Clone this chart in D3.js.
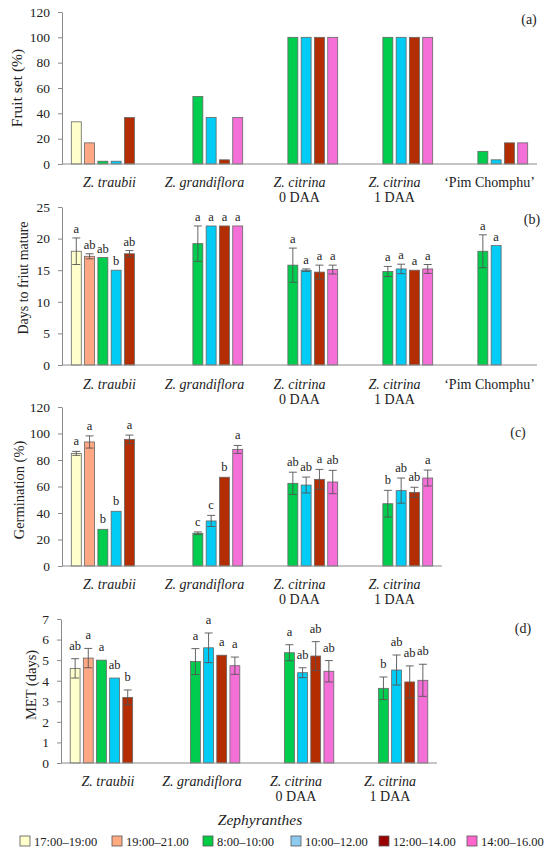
<!DOCTYPE html>
<html>
<head>
<meta charset="utf-8">
<script src="https://cdn.jsdelivr.net/npm/d3@7"></script>
<style>
  html, body { margin: 0; padding: 0; background: #fff; }
  svg { display: block; }
  svg text { font-family: "Liberation Serif", serif; font-weight: 400; fill: #222; }
  .axis path, .axis line { stroke: #8a8a8a; }
  .axis text { font-size: 13.5px; }
</style>
</head>
<body>
<svg id="chart" width="550" height="853"></svg>
<script>
// series = pollination times, categories = Zephyranthes groups
const series = ['17:00–19:00', '19:00–21.00', '8:00–10:00', '10:00–12.00', '12:00–14.00', '14:00–16.00'];
const categories = ['traubii', 'grandiflora', 'citrina0', 'citrina1', 'pim'];
const catLine1 = ['Z. traubii', 'Z. grandiflora', 'Z. citrina', 'Z. citrina', '‘Pim Chomphu’'];
const catLine2 = ['', '', '0 DAA', '1 DAA', ''];
const catItalic = [true, true, true, true, false];

// (a) fruit set %, rows = categories, cols = series
const fruitSet = [
  [33.3, 16.7, 2.2, 2.2, 36.7, null],
  [null, null, 53.3, 36.7, 3.3, 36.7],
  [null, null, 100, 100, 100, 100],
  [null, null, 100, 100, 100, 100],
  [null, null, 10.0, 3.3, 16.7, 16.7]
];

// (b) days to fruit mature
const daysMature = [
  [18.0, 17.2, 17.0, 15.0, 17.6, null],
  [null, null, 19.2, 22.0, 22.0, 22.0],
  [null, null, 15.8, 15.0, 14.7, 15.1],
  [null, null, 14.8, 15.2, 15.0, 15.2],
  [null, null, 18.0, 18.9, null, null]
];
const daysMatureErr = [
  [2.1, 0.4, 0, 0, 0.5, null],
  [null, null, 2.8, 0, 0, 0],
  [null, null, 2.7, 0.2, 1.1, 0.7],
  [null, null, 0.8, 0.75, 0, 0.7],
  [null, null, 2.6, 0, null, null]
];
const daysMatureLetters = [
  ['a', 'ab', 'ab', 'b', 'ab', null],
  [null, null, 'a', 'a', 'a', 'a'],
  [null, null, 'a', 'a', 'a', 'a'],
  [null, null, 'a', 'a', 'a', 'a'],
  [null, null, 'a', 'a', null, null]
];

// (c) germination %
const germination = [
  [85.0, 93.6, 27.7, 41.3, 95.6, null],
  [null, null, 24.7, 34.0, 67.0, 88.0],
  [null, null, 62.4, 61.1, 65.4, 63.4],
  [null, null, 47.0, 56.9, 55.6, 66.4]
];
const germinationErr = [
  [1.5, 4.6, 0, 0, 3.2, null],
  [null, null, 1.0, 4.2, 0, 3.0],
  [null, null, 8.4, 6.0, 7.5, 8.8],
  [null, null, 10.1, 9.5, 3.8, 6.0]
];
const germinationLetters = [
  ['a', 'a', 'b', 'b', 'a', null],
  [null, null, 'c', 'c', 'b', 'a'],
  [null, null, 'ab', 'ab', 'a', 'ab'],
  [null, null, 'b', 'ab', 'ab', 'a']
];

// (d) mean emergence time (days)
const met = [
  [4.60, 5.10, 5.00, 4.13, 3.19, null],
  [null, null, 4.93, 5.60, 5.24, 4.73],
  [null, null, 5.36, 4.39, 5.20, 4.46],
  [null, null, 3.63, 4.52, 3.94, 4.02]
];
const metErr = [
  [0.47, 0.47, 0, 0, 0.36, null],
  [null, null, 0.63, 0.72, 0, 0.42],
  [null, null, 0.39, 0.24, 0.70, 0.52],
  [null, null, 0.55, 0.73, 0.78, 0.78]
];
const metLetters = [
  ['ab', 'a', 'a', 'ab', 'b', null],
  [null, null, 'a', 'a', 'a', 'a'],
  [null, null, 'a', 'ab', 'ab', 'ab'],
  [null, null, 'b', 'ab', 'ab', 'ab']
];

const barColors = ['#ffffcc', '#ffa883', '#00cc4e', '#00ccf5', '#b32d00', '#f46fd8'];
const legendColors = ['#ffffcc', '#ffaa80', '#00cc44', '#8ecaf0', '#990000', '#ff66cc'];

const panels = [
  { tag: '(a)', values: fruitSet, err: null, letters: null, domain: [0, 120], step: 20,
    top: 12, bottom: 164, xr: [62, 537], title: 'Fruit set (%)', titleX: 16, titleY: 88, titleSize: 15.5,
    catY: 187, tagX: 529, tagY: 24, gap: 8 },
  { tag: '(b)', values: daysMature, err: daysMatureErr, letters: daysMatureLetters, domain: [0, 25], step: 5,
    top: 207, bottom: 365, xr: [62, 537], title: 'Days to friut mature', titleX: 23, titleY: 278, titleSize: 14,
    catY: 389, tagX: 532, tagY: 224, gap: 5 },
  { tag: '(c)', values: germination, err: germinationErr, letters: germinationLetters, domain: [0, 120], step: 20,
    top: 407, bottom: 566, xr: [62, 442], title: 'Germination (%)', titleX: 19, titleY: 490, titleSize: 14.5,
    catY: 589, tagX: 518, tagY: 437, gap: 6 },
  { tag: '(d)', values: met, err: metErr, letters: metLetters, domain: [0, 7], step: 1,
    top: 619, bottom: 763, xr: [61, 437], title: 'MET (days)', titleX: 31, titleY: 685, titleSize: 14.5,
    catY: 786, tagX: 523, tagY: 633, gap: 9 }
];

const svg = d3.select('#chart');

panels.forEach(p => {
  const cats = categories.slice(0, p.values.length);
  const g = svg.append('g');

  const x0 = d3.scaleBand().domain(cats).range(p.xr);
  const x1 = d3.scaleBand().domain(d3.range(series.length))
    .range([0, x0.bandwidth()]).paddingInner(0.25).paddingOuter(0.7);
  const y = d3.scaleLinear().domain(p.domain).range([p.bottom, p.top]);

  // y axis
  g.append('g')
    .attr('class', 'axis')
    .attr('transform', `translate(${p.xr[0]},0)`)
    .call(d3.axisLeft(y)
      .tickValues(d3.range(p.domain[0], p.domain[1] + p.step / 2, p.step))
      .tickFormat(d3.format('d'))
      .tickSize(4).tickSizeOuter(0).tickPadding(8));

  // flatten to cells, skipping missing series
  const cells = [];
  p.values.forEach((row, i) => row.forEach((v, j) => {
    if (v == null) return;
    cells.push({ cat: cats[i], i, j, v,
      e: p.err ? (p.err[i][j] || 0) : 0,
      l: p.letters ? p.letters[i][j] : null });
  }));

  g.selectAll('rect.bar').data(cells).join('rect')
    .attr('class', 'bar')
    .attr('x', d => x0(d.cat) + x1(d.j))
    .attr('y', d => y(d.v))
    .attr('width', x1.bandwidth())
    .attr('height', d => y(0) - y(d.v))
    .attr('fill', d => barColors[d.j])
    .attr('stroke', '#666')
    .attr('stroke-width', 0.8);

  // x axis line
  g.append('line')
    .attr('x1', p.xr[0]).attr('x2', p.xr[1])
    .attr('y1', y(0)).attr('y2', y(0))
    .attr('stroke', '#8a8a8a').attr('stroke-width', 1);

  // error bars
  const errs = cells.filter(d => d.e > 0);
  const cx = d => x0(d.cat) + x1(d.j) + x1.bandwidth() / 2;
  const eg = g.selectAll('g.err').data(errs).join('g').attr('class', 'err')
    .attr('stroke', '#555').attr('stroke-width', 0.9);
  eg.append('line')
    .attr('x1', cx).attr('x2', cx)
    .attr('y1', d => y(d.v + d.e)).attr('y2', d => y(d.v - d.e));
  [1, -1].forEach(s => {
    eg.append('line')
      .attr('x1', d => cx(d) - 4).attr('x2', d => cx(d) + 4)
      .attr('y1', d => y(d.v + s * d.e)).attr('y2', d => y(d.v + s * d.e));
  });

  // significance letters
  g.selectAll('text.letter').data(cells.filter(d => d.l)).join('text')
    .attr('class', 'letter')
    .attr('x', cx)
    .attr('y', d => y(d.v + d.e) - p.gap)
    .attr('text-anchor', 'middle')
    .style('font-size', '12.5px')
    .text(d => d.l);

  // category labels, two separate lines
  const mid = d => x0(d) + x0.bandwidth() / 2;
  g.selectAll('text.cat1').data(cats).join('text')
    .attr('class', 'cat1')
    .attr('x', mid).attr('y', p.catY)
    .attr('text-anchor', 'middle')
    .style('font-size', '14px')
    .style('font-style', d => catItalic[categories.indexOf(d)] ? 'italic' : 'normal')
    .text(d => catLine1[categories.indexOf(d)]);
  g.selectAll('text.cat2').data(cats.filter(d => catLine2[categories.indexOf(d)])).join('text')
    .attr('class', 'cat2')
    .attr('x', mid).attr('y', p.catY + 15)
    .attr('text-anchor', 'middle')
    .style('font-size', '14px')
    .text(d => catLine2[categories.indexOf(d)]);

  // y title
  g.append('text')
    .attr('transform', `translate(${p.titleX},${p.titleY}) rotate(-90)`)
    .attr('text-anchor', 'middle')
    .attr('dominant-baseline', 'central')
    .style('font-size', p.titleSize + 'px')
    .text(p.title);

  // panel tag
  g.append('text')
    .attr('x', p.tagX).attr('y', p.tagY)
    .attr('text-anchor', 'middle')
    .style('font-size', '14px')
    .text(p.tag);
});

// genus label
svg.append('text')
  .attr('x', 260).attr('y', 825)
  .attr('text-anchor', 'middle')
  .style('font-size', '15.5px')
  .style('font-style', 'italic')
  .text('Zephyranthes');

// legend
const legendX = [20, 112, 203, 291, 379, 467];
const lg = svg.append('g').selectAll('g').data(series).join('g')
  .attr('transform', (d, i) => `translate(${legendX[i]},836)`);
lg.append('rect')
  .attr('width', 10).attr('height', 10)
  .attr('fill', (d, i) => legendColors[i])
  .attr('stroke', '#555').attr('stroke-width', 0.8);
lg.append('text')
  .attr('x', 14).attr('y', 9.5)
  .style('font-size', '12.5px')
  .text(d => d);
</script>
</body>
</html>
